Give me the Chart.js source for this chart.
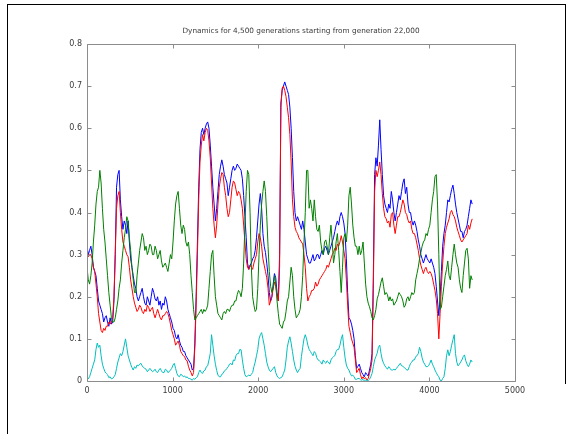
<!DOCTYPE html>
<html>
<head>
<meta charset="utf-8">
<script src="https://cdn.jsdelivr.net/npm/chart.js@4.4.1/dist/chart.umd.min.js"></script>
<style>
html,body{margin:0;padding:0;background:#fff;}
#wrap{position:relative;width:569px;height:434px;overflow:hidden;}
#c{position:absolute;left:0;top:0;}
.fl{position:absolute;background:#000;}
</style>
</head>
<body>
<div id="wrap">
<canvas id="c" width="569" height="434"></canvas>
<div class="fl" style="left:7px;top:4px;width:1px;height:430px"></div>
<div class="fl" style="left:7px;top:4px;width:559px;height:1px"></div>
<div class="fl" style="left:565px;top:4px;width:1px;height:380px"></div>
</div>
<script>
// generation step between samples
const GEN_STEP = 15;
const titleText = "Dynamics for 4,500 generations starting from generation 22,000";
const xTicks = [0, 1000, 2000, 3000, 4000, 5000];
const yTicks = [0, 0.1, 0.2, 0.3, 0.4, 0.5, 0.6, 0.7, 0.8];

const blueValues = [
 0.32,0.30,0.31,0.32,0.30,0.27,0.26,0.25,0.22,0.19,0.18,0.17,0.16,0.14,0.15,0.155,0.14,0.13,0.15,0.135,
 0.14,0.19,0.30,0.46,0.49,0.50,0.43,0.39,0.36,0.38,0.37,0.35,0.38,0.33,0.29,0.27,0.25,0.23,0.22,0.20,
 0.19,0.20,0.21,0.22,0.20,0.185,0.18,0.20,0.19,0.18,0.20,0.22,0.21,0.195,0.19,0.20,0.18,0.19,0.17,0.185,
 0.18,0.20,0.19,0.17,0.16,0.15,0.14,0.125,0.12,0.105,0.10,0.11,0.095,0.085,0.08,0.07,0.07,0.06,0.055,0.05,
 0.045,0.04,0.026,0.03,0.09,0.20,0.33,0.46,0.55,0.59,0.60,0.585,0.60,0.61,0.615,0.60,0.56,0.51,0.46,0.42,
 0.38,0.41,0.45,0.49,0.51,0.525,0.51,0.49,0.48,0.47,0.44,0.46,0.48,0.50,0.51,0.50,0.505,0.515,0.51,0.505,
 0.50,0.48,0.44,0.39,0.34,0.28,0.265,0.275,0.28,0.29,0.295,0.31,0.34,0.38,0.42,0.445,0.41,0.35,0.32,0.305,
 0.28,0.25,0.21,0.19,0.20,0.23,0.255,0.245,0.21,0.19,0.30,0.66,0.69,0.70,0.71,0.70,0.69,0.68,0.65,0.60,
 0.53,0.45,0.40,0.38,0.39,0.38,0.37,0.36,0.38,0.36,0.33,0.30,0.29,0.28,0.28,0.29,0.30,0.285,0.29,0.30,
 0.30,0.29,0.30,0.31,0.30,0.315,0.32,0.31,0.30,0.31,0.32,0.33,0.34,0.355,0.37,0.38,0.37,0.39,0.40,0.39,
 0.375,0.35,0.29,0.21,0.15,0.145,0.135,0.12,0.10,0.06,0.03,0.035,0.04,0.03,0.02,0.015,0.01,0.02,0.015,0.012,
 0.026,0.04,0.065,0.25,0.49,0.53,0.51,0.56,0.62,0.55,0.49,0.44,0.42,0.41,0.40,0.42,0.41,0.45,0.43,0.40,
 0.38,0.40,0.42,0.44,0.43,0.45,0.47,0.48,0.445,0.46,0.42,0.40,0.40,0.38,0.37,0.38,0.37,0.355,0.335,0.32,
 0.30,0.29,0.28,0.29,0.30,0.29,0.285,0.28,0.29,0.28,0.27,0.255,0.225,0.19,0.155,0.20,0.26,0.32,0.35,0.37,
 0.40,0.43,0.425,0.44,0.455,0.465,0.445,0.42,0.40,0.385,0.37,0.355,0.355,0.34,0.355,0.36,0.37,0.39,0.41,0.43,
 0.42
];
const redValues = [
 0.31,0.295,0.30,0.30,0.29,0.27,0.26,0.23,0.20,0.16,0.14,0.12,0.115,0.125,0.12,0.13,0.13,0.14,0.135,0.14,
 0.15,0.20,0.30,0.41,0.44,0.45,0.40,0.36,0.33,0.32,0.31,0.30,0.295,0.27,0.24,0.22,0.20,0.185,0.175,0.165,
 0.17,0.18,0.175,0.165,0.16,0.17,0.165,0.18,0.175,0.165,0.17,0.175,0.16,0.15,0.16,0.17,0.16,0.15,0.145,0.155,
 0.155,0.16,0.165,0.16,0.15,0.135,0.12,0.11,0.10,0.085,0.09,0.095,0.085,0.07,0.065,0.06,0.058,0.05,0.048,0.035,
 0.026,0.02,0.012,0.02,0.08,0.18,0.30,0.43,0.52,0.56,0.585,0.57,0.59,0.60,0.595,0.57,0.53,0.47,0.41,0.37,
 0.34,0.37,0.42,0.46,0.48,0.495,0.49,0.46,0.44,0.41,0.39,0.40,0.43,0.46,0.475,0.47,0.455,0.44,0.45,0.445,
 0.43,0.41,0.37,0.33,0.29,0.27,0.265,0.275,0.27,0.265,0.28,0.29,0.30,0.33,0.35,0.34,0.32,0.29,0.275,0.26,
 0.245,0.22,0.18,0.19,0.20,0.22,0.235,0.225,0.205,0.19,0.27,0.65,0.695,0.70,0.69,0.675,0.65,0.625,0.585,0.52,
 0.43,0.39,0.365,0.355,0.35,0.34,0.335,0.33,0.325,0.30,0.27,0.22,0.19,0.20,0.205,0.215,0.215,0.22,0.235,0.225,
 0.23,0.24,0.245,0.25,0.255,0.26,0.265,0.275,0.27,0.28,0.29,0.30,0.305,0.315,0.31,0.325,0.32,0.33,0.345,0.33,
 0.31,0.29,0.24,0.18,0.13,0.115,0.10,0.09,0.08,0.05,0.02,0.025,0.03,0.015,0.005,0.01,0.005,0.008,0.002,0.006,
 0.018,0.03,0.05,0.22,0.45,0.50,0.485,0.50,0.52,0.49,0.445,0.41,0.39,0.385,0.375,0.38,0.365,0.395,0.40,0.37,
 0.35,0.37,0.39,0.39,0.40,0.415,0.43,0.42,0.40,0.395,0.382,0.375,0.38,0.36,0.35,0.35,0.34,0.325,0.31,0.29,
 0.275,0.265,0.255,0.265,0.27,0.26,0.255,0.26,0.255,0.245,0.23,0.215,0.195,0.16,0.10,0.16,0.225,0.28,0.32,0.35,
 0.365,0.375,0.385,0.40,0.405,0.395,0.39,0.38,0.365,0.355,0.345,0.335,0.33,0.335,0.34,0.345,0.35,0.37,0.36,0.375,
 0.385
];
const greenValues = [
 0.27,0.24,0.23,0.25,0.28,0.33,0.37,0.42,0.45,0.46,0.50,0.47,0.41,0.36,0.33,0.29,0.25,0.21,0.18,0.15,
 0.14,0.14,0.15,0.17,0.19,0.22,0.24,0.28,0.31,0.34,0.36,0.39,0.38,0.34,0.31,0.27,0.24,0.21,0.21,0.25,
 0.28,0.31,0.33,0.35,0.34,0.31,0.32,0.30,0.31,0.325,0.32,0.30,0.30,0.32,0.31,0.29,0.30,0.31,0.285,0.27,
 0.275,0.28,0.27,0.26,0.28,0.30,0.29,0.33,0.38,0.42,0.44,0.45,0.41,0.37,0.35,0.37,0.36,0.33,0.32,0.33,
 0.30,0.25,0.21,0.17,0.145,0.15,0.155,0.16,0.165,0.17,0.16,0.17,0.165,0.17,0.18,0.22,0.26,0.30,0.31,0.25,
 0.20,0.18,0.16,0.155,0.15,0.145,0.16,0.165,0.16,0.17,0.17,0.165,0.175,0.18,0.18,0.19,0.19,0.205,0.215,0.21,
 0.20,0.22,0.28,0.37,0.45,0.50,0.49,0.40,0.27,0.20,0.18,0.165,0.17,0.22,0.30,0.37,0.42,0.45,0.475,0.45,
 0.39,0.32,0.26,0.225,0.21,0.22,0.25,0.23,0.19,0.16,0.135,0.13,0.125,0.14,0.145,0.165,0.19,0.20,0.235,0.27,
 0.25,0.20,0.17,0.15,0.155,0.16,0.17,0.20,0.25,0.33,0.40,0.50,0.50,0.41,0.43,0.41,0.38,0.43,0.39,0.36,
 0.355,0.37,0.33,0.31,0.30,0.33,0.335,0.32,0.30,0.34,0.37,0.33,0.28,0.30,0.33,0.35,0.31,0.26,0.21,0.27,
 0.34,0.35,0.33,0.37,0.44,0.46,0.42,0.37,0.34,0.32,0.32,0.30,0.32,0.30,0.31,0.33,0.28,0.23,0.20,0.185,
 0.176,0.165,0.15,0.145,0.155,0.17,0.195,0.205,0.22,0.235,0.245,0.225,0.205,0.21,0.205,0.19,0.20,0.19,0.195,0.18,
 0.185,0.19,0.20,0.21,0.205,0.20,0.19,0.175,0.18,0.195,0.20,0.19,0.20,0.21,0.205,0.21,0.24,0.255,0.27,0.29,
 0.305,0.32,0.33,0.335,0.35,0.345,0.36,0.37,0.40,0.43,0.45,0.485,0.49,0.42,0.30,0.17,0.175,0.20,0.225,0.25,
 0.265,0.285,0.25,0.24,0.27,0.30,0.325,0.30,0.28,0.27,0.24,0.22,0.21,0.25,0.28,0.31,0.315,0.29,0.22,0.25,
 0.24
];
const cyanValues = [
 0.01,0.005,0.01,0.02,0.03,0.04,0.05,0.075,0.09,0.08,0.085,0.06,0.04,0.03,0.022,0.018,0.015,0.008,0.01,0.005,
 0.006,0.01,0.015,0.03,0.045,0.055,0.065,0.06,0.07,0.085,0.10,0.08,0.06,0.05,0.04,0.032,0.026,0.034,0.03,0.038,
 0.036,0.04,0.042,0.036,0.032,0.03,0.028,0.022,0.026,0.03,0.026,0.022,0.024,0.028,0.022,0.02,0.026,0.03,0.024,0.02,
 0.02,0.028,0.026,0.02,0.022,0.026,0.03,0.038,0.042,0.03,0.018,0.012,0.01,0.016,0.014,0.01,0.012,0.008,0.01,0.006,
 0.006,0.004,0.002,0.006,0.004,0.008,0.01,0.02,0.026,0.02,0.018,0.024,0.026,0.034,0.036,0.05,0.065,0.11,0.085,0.06,
 0.04,0.025,0.014,0.01,0.01,0.016,0.018,0.024,0.026,0.03,0.034,0.04,0.042,0.038,0.05,0.048,0.06,0.065,0.065,0.075,
 0.074,0.05,0.03,0.015,0.01,0.012,0.014,0.012,0.016,0.02,0.034,0.045,0.06,0.075,0.10,0.11,0.115,0.10,0.085,0.065,
 0.045,0.034,0.026,0.022,0.026,0.03,0.034,0.02,0.012,0.008,0.006,0.008,0.01,0.018,0.026,0.05,0.08,0.095,0.105,0.09,
 0.07,0.05,0.035,0.026,0.02,0.026,0.03,0.058,0.08,0.10,0.11,0.10,0.085,0.075,0.07,0.065,0.06,0.07,0.066,0.055,
 0.05,0.048,0.045,0.04,0.05,0.045,0.042,0.048,0.045,0.04,0.05,0.055,0.058,0.06,0.07,0.075,0.075,0.085,0.10,0.11,
 0.08,0.055,0.038,0.03,0.026,0.018,0.012,0.014,0.01,0.004,0.004,0.006,0.006,0.003,0.002,0.004,0.0,0.002,0.002,0.001,
 0.004,0.01,0.018,0.034,0.05,0.058,0.066,0.08,0.085,0.065,0.05,0.042,0.036,0.032,0.028,0.034,0.03,0.026,0.026,0.028,
 0.026,0.03,0.034,0.038,0.042,0.036,0.035,0.032,0.03,0.026,0.026,0.034,0.042,0.045,0.05,0.05,0.058,0.06,0.065,0.08,
 0.07,0.055,0.045,0.04,0.034,0.034,0.036,0.042,0.05,0.04,0.034,0.026,0.02,0.014,0.01,0.002,0.0,0.006,0.01,0.03,
 0.06,0.074,0.06,0.07,0.085,0.098,0.11,0.065,0.045,0.036,0.04,0.045,0.05,0.058,0.062,0.048,0.04,0.034,0.04,0.05,
 0.045
];

function toPoints(vals) {
  return vals.map((v, i) => ({ x: i * GEN_STEP, y: v }));
}

const FONT = { family: "'DejaVu Sans', sans-serif", size: 8 };
const TEXT_COLOR = '#3a3a3a';
const FRAME_COLOR = '#8c8c8c';

const framePlugin = {
  id: 'frame',
  afterDatasetsDraw(chart) {
    const { ctx, chartArea: a, scales: { x, y } } = chart;
    ctx.save();
    ctx.strokeStyle = FRAME_COLOR;
    ctx.lineWidth = 1;
    ctx.beginPath();
    const L = Math.round(a.left) + 0.5, R = Math.round(a.right) + 0.5;
    const T = Math.round(a.top) + 0.5, B = Math.round(a.bottom) + 0.5;
    ctx.rect(L, T, R - L, B - T);
    const tl = 4;
    xTicks.forEach(v => {
      const px = Math.round(x.getPixelForValue(v)) + 0.5;
      ctx.moveTo(px, B); ctx.lineTo(px, B - tl);
      ctx.moveTo(px, T); ctx.lineTo(px, T + tl);
    });
    yTicks.forEach(v => {
      const py = Math.round(y.getPixelForValue(v)) + 0.5;
      ctx.moveTo(L, py); ctx.lineTo(L + tl, py);
      ctx.moveTo(R, py); ctx.lineTo(R - tl, py);
    });
    ctx.stroke();
    // title centred over the plot area
    ctx.fillStyle = TEXT_COLOR;
    ctx.font = "7.3px 'DejaVu Sans', sans-serif";
    ctx.textAlign = 'center';
    ctx.textBaseline = 'middle';
    ctx.fillText(titleText, (a.left + a.right) / 2, 31);
    ctx.restore();
  }
};

const mk = (label, vals, color) => ({
  label, data: toPoints(vals), borderColor: color, backgroundColor: color,
  borderWidth: 1, pointRadius: 0, tension: 0, fill: false
});

new Chart(document.getElementById('c'), {
  type: 'line',
  data: {
    datasets: [
      mk('cyan', cyanValues, '#00bfbf'),
      mk('green', greenValues, '#008000'),
      mk('red', redValues, '#ff0000'),
      mk('blue', blueValues, '#0000ff')
    ]
  },
  options: {
    responsive: false,
    animation: false,
    devicePixelRatio: 1,
    layout: { padding: { left: 0, right: 54, top: 44, bottom: 0 } },
    plugins: {
      legend: { display: false },
      tooltip: { enabled: false },
      title: { display: false }
    },
    scales: {
      x: {
        type: 'linear', min: 0, max: 5000,
        afterFit(s) { s.height = 53; },
        afterBuildTicks(s) { s.ticks = xTicks.map(v => ({ value: v })); },
        grid: { display: false, drawTicks: false },
        border: { display: false },
        ticks: { color: TEXT_COLOR, font: FONT, padding: 5, maxRotation: 0, callback: v => String(v) }
      },
      y: {
        type: 'linear', min: 0, max: 0.8,
        afterFit(s) { s.width = 87; },
        afterBuildTicks(s) { s.ticks = yTicks.map(v => ({ value: v })); },
        grid: { display: false, drawTicks: false },
        border: { display: false },
        ticks: { color: TEXT_COLOR, font: FONT, padding: 5, callback: v => String(Math.round(v * 10) / 10) }
      }
    }
  },
  plugins: [framePlugin]
});
</script>
</body>
</html>
